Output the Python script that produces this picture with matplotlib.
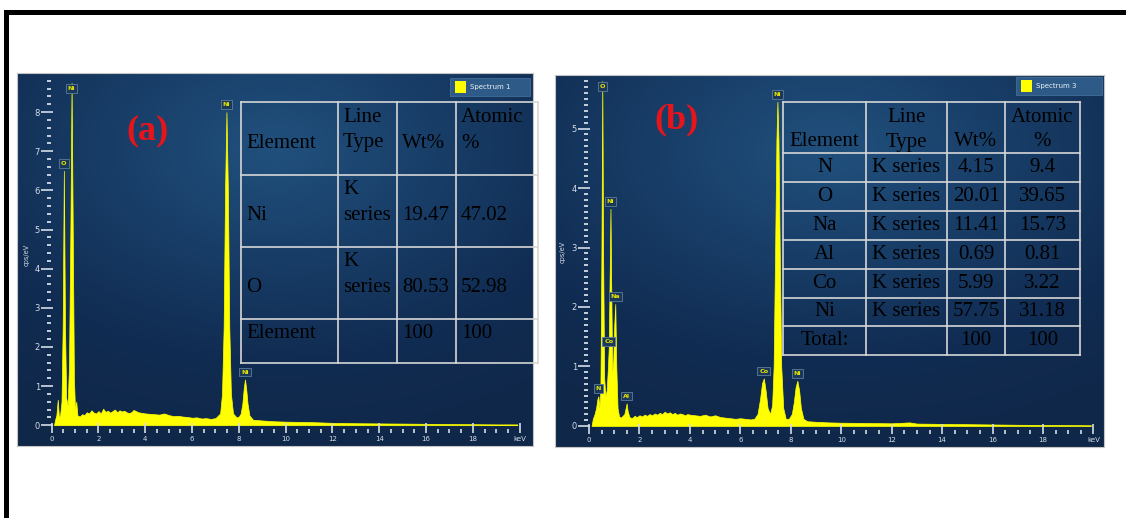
import numpy as np
import matplotlib
matplotlib.use('Agg')
import matplotlib.pyplot as plt
from matplotlib.patches import Rectangle
from matplotlib.ticker import FixedLocator, FixedFormatter
from matplotlib.colors import LinearSegmentedColormap

W, H = 1126, 518

# ---- spectrum (a), Spectrum 1 ----
energy_a = [0.10, 0.15, 0.20, 0.26, 0.31, 0.36, 0.42, 0.47, 0.52, 0.57,
            0.62, 0.68, 0.74, 0.80, 0.85, 0.90, 0.95, 1.00, 1.05, 1.10,
            1.2, 1.3, 1.4, 1.5, 1.6, 1.7, 1.8, 1.9, 2.0, 2.1,
            2.2, 2.3, 2.4, 2.5, 2.6, 2.7, 2.8, 2.9, 3.0, 3.1,
            3.2, 3.3, 3.4, 3.5, 3.6, 3.7, 3.8, 3.9, 4.0, 4.2,
            4.4, 4.6, 4.8, 5.0, 5.2, 5.4, 5.6, 5.8, 6.0, 6.2,
            6.4, 6.6, 6.8, 7.0, 7.2, 7.28, 7.35, 7.41, 7.47, 7.53,
            7.59, 7.66, 7.75, 7.9, 8.0, 8.08, 8.15, 8.21, 8.26, 8.31,
            8.37, 8.45, 8.6, 9.0, 9.5, 10, 11, 12, 13, 14,
            15, 16, 17, 18, 19, 19.9]
counts_a = [0.0, 0.15, 0.25, 0.65, 0.2, 0.25, 0.6, 2.5, 6.5, 2.5,
            0.7, 0.5, 1.5, 5.0, 8.75, 5.0, 1.2, 0.35, 0.6, 0.25,
            0.22, 0.28, 0.26, 0.33, 0.3, 0.38, 0.32, 0.3, 0.36, 0.3,
            0.42, 0.34, 0.37, 0.32, 0.36, 0.4, 0.33, 0.38, 0.35, 0.37,
            0.33, 0.31, 0.33, 0.39, 0.36, 0.33, 0.32, 0.31, 0.3, 0.29,
            0.28, 0.27, 0.3, 0.26, 0.23, 0.24, 0.22, 0.21, 0.19, 0.2,
            0.17, 0.18, 0.16, 0.18, 0.3, 0.8, 2.5, 6.0, 8.0, 6.0,
            2.5, 0.8, 0.3, 0.2, 0.22, 0.3, 0.55, 0.95, 1.17, 0.95,
            0.55, 0.25, 0.14, 0.12, 0.1, 0.09, 0.08, 0.06, 0.05, 0.045,
            0.04, 0.035, 0.03, 0.025, 0.02, 0.02]
peak_names_a = ['Ni', 'O', 'Ni', 'Ni']
peak_e_a = [0.85, 0.52, 7.47, 8.26]
peak_h_a = [8.75, 6.5, 8.0, 1.17]

# ---- spectrum (b), Spectrum 3 ----
energy_b = [0.10, 0.15, 0.22, 0.28, 0.33, 0.37, 0.41, 0.45, 0.49, 0.525,
            0.56, 0.60, 0.65, 0.70, 0.75, 0.78, 0.82, 0.85, 0.88, 0.92,
            0.96, 1.00, 1.04, 1.08, 1.13, 1.19, 1.26, 1.33, 1.40, 1.45,
            1.49, 1.53, 1.60, 1.70, 1.80, 1.90, 2.0, 2.1, 2.2, 2.3,
            2.4, 2.5, 2.6, 2.7, 2.8, 2.9, 3.0, 3.1, 3.2, 3.3,
            3.4, 3.5, 3.6, 3.7, 3.8, 3.9, 4.0, 4.2, 4.4, 4.6,
            4.8, 5.0, 5.2, 5.4, 5.6, 5.8, 6.0, 6.2, 6.4, 6.55,
            6.68, 6.78, 6.86, 6.93, 7.00, 7.08, 7.18, 7.26, 7.32, 7.38,
            7.43, 7.47, 7.51, 7.56, 7.62, 7.70, 7.80, 7.92, 8.04, 8.12,
            8.19, 8.26, 8.33, 8.40, 8.50, 8.65, 9.0, 9.5, 10, 11,
            12, 12.7, 13, 14, 15, 16, 17, 18, 19, 19.9]
counts_b = [0.0, 0.12, 0.2, 0.3, 0.45, 0.5, 0.3, 0.6, 2.8, 5.8,
            2.8, 0.8, 0.5, 0.6, 1.0, 1.3, 2.6, 3.65, 2.3, 0.9,
            1.1, 1.7, 2.05, 1.0, 0.3, 0.16, 0.14, 0.17, 0.2, 0.3,
            0.38, 0.25, 0.15, 0.13, 0.17, 0.15, 0.18, 0.16, 0.19, 0.17,
            0.2, 0.18, 0.21, 0.19, 0.22, 0.2, 0.24, 0.21, 0.23, 0.2,
            0.22, 0.19, 0.21, 0.2, 0.18, 0.2, 0.19, 0.18, 0.17, 0.19,
            0.16, 0.18, 0.15, 0.14, 0.13, 0.12, 0.13, 0.12, 0.11, 0.12,
            0.2, 0.45, 0.72, 0.8, 0.6, 0.3, 0.2, 0.35, 1.0, 3.0,
            4.8, 5.45, 4.8, 3.0, 1.0, 0.3, 0.12, 0.12, 0.2, 0.4,
            0.65, 0.76, 0.6, 0.3, 0.12, 0.08, 0.07, 0.06, 0.055, 0.05,
            0.045, 0.06, 0.04, 0.035, 0.03, 0.025, 0.02, 0.018, 0.015, 0.012]
peak_names_b = ['O', 'Ni', 'Na', 'Co', 'N', 'Al', 'Co', 'Ni', 'Ni']
peak_e_b = [0.525, 0.85, 1.04, 0.78, 0.37, 1.49, 6.93, 7.47, 8.26]
peak_h_b = [5.8, 3.65, 2.05, 1.3, 0.5, 0.38, 0.8, 5.45, 0.76]

# ---- tables ----
header = ['Element', 'Line\nType', 'Wt%', 'Atomic\n%']
elem_a = ['Ni', 'O', 'Element']
line_a = ['K\nseries', 'K\nseries', '']
wt_a = ['19.47', '80.53', '100']
at_a = ['47.02', '52.98', '100']

elem_b = ['N', 'O', 'Na', 'Al', 'Co', 'Ni', 'Total:']
line_b = ['K series'] * 6 + ['']
wt_b = ['4.15', '20.01', '11.41', '0.69', '5.99', '57.75', '100']
at_b = ['9.4', '39.65', '15.73', '0.81', '3.22', '31.18', '100']


def frac(l, t, r, b):
    return [l / W, 1 - b / H, (r - l) / W, (b - t) / H]


fig = plt.figure(figsize=(W / 100, H / 100), dpi=100)
fig.patch.set_facecolor('white')

bg_cmap = LinearSegmentedColormap.from_list('eds', ['#21507d', '#183e68', '#112c52', '#0f2748'])
tick_col = '#d5dde6'


def panel(box, inner, xlim, ylim, e, c, names, pe, ph, ymax_tick, ystep, ymax_label):
    bg = fig.add_axes(frac(*box))
    yy, xx = np.mgrid[0:1:200j, 0:1:300j]
    r = np.sqrt(((xx - 0.5) / 1.1) ** 2 + ((yy - 0.2) / 1.0) ** 2)
    bg.imshow(r, cmap=bg_cmap, aspect='auto', extent=(0, 1, 1, 0), vmin=0, vmax=0.85)
    bg.set_xticks([])
    bg.set_yticks([])
    for s in bg.spines.values():
        s.set_color('#c4c4c4')
        s.set_linewidth(0.8)

    ax = fig.add_axes(frac(*inner))
    ax.patch.set_alpha(0)
    ax.fill_between(e, c, 0, color='#ffff00', lw=0.5, ec='#ffff00')
    ax.set_xlim(*xlim)
    ax.set_ylim(*ylim)
    for s in ax.spines.values():
        s.set_visible(False)

    ax.xaxis.set_major_locator(FixedLocator(list(range(0, 21, 2))))
    ax.xaxis.set_major_formatter(FixedFormatter([str(v) for v in range(0, 19, 2)] + ['keV']))
    ax.xaxis.set_minor_locator(FixedLocator(np.arange(0, 20.01, 0.5)))
    ax.tick_params(axis='x', which='major', direction='in', length=7, width=1.2,
                   colors=tick_col, labelsize=5, pad=2)
    ax.tick_params(axis='x', which='minor', direction='in', length=3, width=1.2, colors=tick_col)

    ax.yaxis.set_major_locator(FixedLocator(list(range(0, ymax_label + 1))))
    ax.yaxis.set_minor_locator(FixedLocator(np.arange(0, ymax_tick + 0.001, ystep)))
    ax.tick_params(axis='y', which='major', direction='inout', length=8, width=1.2,
                   colors=tick_col, labelsize=6, pad=1)
    ax.tick_params(axis='y', which='minor', direction='in', length=3, width=1.3, colors=tick_col)

    top = ylim[1]
    for n, x, y in zip(names, pe, ph):
        # labels that would leave the frame sit on the peak tip instead
        up = y < top - 0.06 * (top - ylim[0])
        ax.annotate(n, (x, y), xytext=(0, 3.5 if up else -6), textcoords='offset points',
                    ha='center', va='bottom', fontsize=4.6, color='#e4e400',
                    fontweight='bold',
                    bbox=dict(boxstyle='square,pad=0.3', fc='#1b3858', ec='#5d7c9a', lw=0.6))
    return ax


panel((17, 73, 533, 446), (47, 73, 529, 433), (-0.2, 20.4), (-0.2, 9.0),
      energy_a, counts_a, peak_names_a, peak_e_a, peak_h_a, 8.8, 0.2, 8)
panel((555, 75, 1104, 447), (584, 75, 1101, 434), (-0.2, 20.3), (-0.135, 5.9),
      energy_b, counts_b, peak_names_b, peak_e_b, peak_h_b, 5.8, 0.1, 5)

# ---- overlay in pixel coordinates ----
ov = fig.add_axes([0, 0, 1, 1])
ov.set_xlim(0, W)
ov.set_ylim(H, 0)
ov.axis('off')
ov.patch.set_alpha(0)

# black frame
ov.add_patch(Rectangle((4, 10), W - 4, 5, color='black', lw=0))
ov.add_patch(Rectangle((4, 10), 5, H - 10, color='black', lw=0))

# axis titles
ov.text(27, 255, 'cps/eV', rotation=90, ha='center', va='center', fontsize=4.8, color=tick_col)
ov.text(563, 252, 'cps/eV', rotation=90, ha='center', va='center', fontsize=4.8, color=tick_col)

# legends
for (l, t, r, b), name in [((450, 78, 530, 96), 'Spectrum 1'), ((1016, 77, 1102, 95), 'Spectrum 3')]:
    ov.add_patch(Rectangle((l, t), r - l, b - t, fc='#2d5a86', ec='#426e98', lw=0.6))
    ov.add_patch(Rectangle((l + 5, t + 3), 11, b - t - 6, fc='#ffff00', ec='none'))
    ov.text(l + 20, (t + b) / 2, name, ha='left', va='center', fontsize=5, color='#eef2f6')

# panel letters
ov.text(148, 131, '(a)', ha='center', va='center', fontsize=26, fontweight='bold',
        color='#e8141c', family='Liberation Serif')
ov.text(676, 120, '(b)', ha='center', va='center', fontsize=26, fontweight='bold',
        color='#e8141c', family='Liberation Serif')

line_kw = dict(color='#d6d6d6', lw=1.2)
txt_kw = dict(fontsize=15, color='black', family='Liberation Serif')

# table (a): left aligned cells, text sits on the lower line
xs_a = [241, 338, 397, 456, 538]
ys_a = [102, 175, 247, 319, 363]
for x in xs_a:
    ov.plot([x, x], [ys_a[0], ys_a[-1]], **line_kw)
for y in ys_a:
    ov.plot([xs_a[0], xs_a[-1]], [y, y], **line_kw)
base_a = [143, 216, 288, 333]
rows_a = [header] + [list(t) for t in zip(elem_a, line_a, wt_a, at_a)]
for ri, row in enumerate(rows_a):
    for ci, cell in enumerate(row):
        parts = cell.split('\n')
        for k, part in enumerate(parts[::-1]):
            ov.text(xs_a[ci] + 5, base_a[ri] - 26 * k, part, ha='left', va='center', **txt_kw)

# table (b): centred cells
xs_b = [783, 866, 947, 1005, 1080]
ys_b = [102, 153, 182, 211, 240, 269, 298, 326, 355]
for x in xs_b:
    ov.plot([x, x], [ys_b[0], ys_b[-1]], **line_kw)
for y in ys_b:
    ov.plot([xs_b[0], xs_b[-1]], [y, y], **line_kw)
for ci, cell in enumerate(header):
    parts = cell.split('\n')
    cx = (xs_b[ci] + xs_b[ci + 1]) / 2
    for k, part in enumerate(parts[::-1]):
        ov.text(cx, 142 - 25 * k, part, ha='center', va='center', **txt_kw)
rows_b = list(zip(elem_b, line_b, wt_b, at_b))
for ri, row in enumerate(rows_b):
    cy = (ys_b[ri + 1] + ys_b[ri + 2]) / 2
    for ci, cell in enumerate(row):
        cx = (xs_b[ci] + xs_b[ci + 1]) / 2
        ov.text(cx, cy, cell, ha='center', va='center', **txt_kw)

fig.savefig('out.png', dpi=100)
